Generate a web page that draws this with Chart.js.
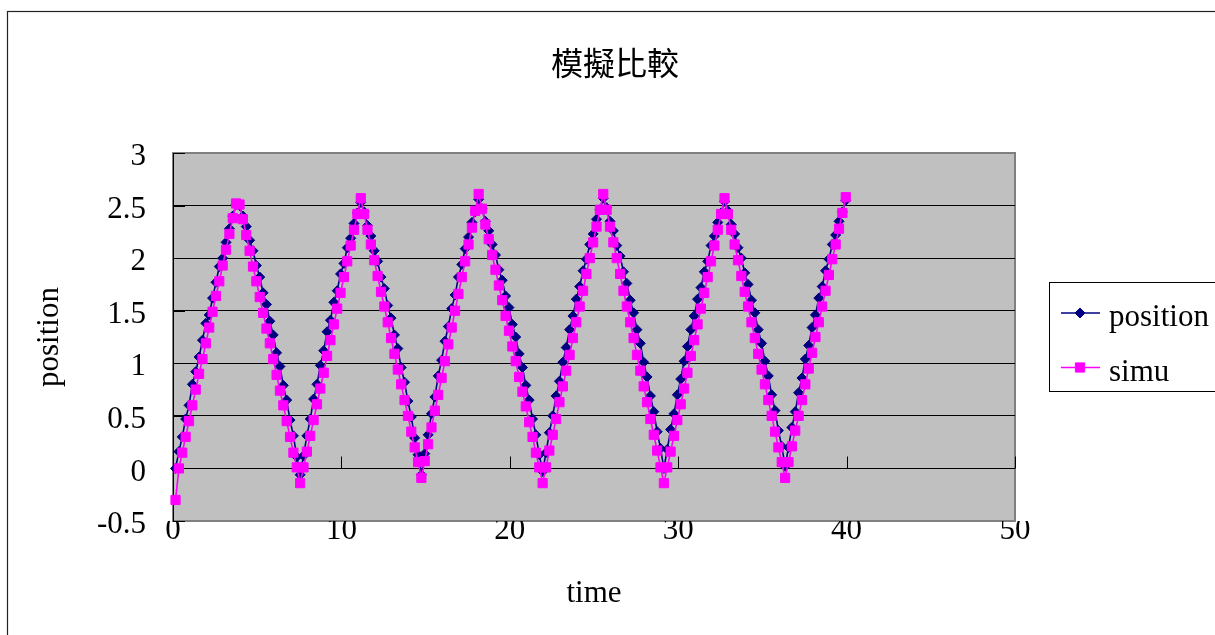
<!DOCTYPE html>
<html><head><meta charset="utf-8">
<style>html,body{margin:0;padding:0;background:#fff;} #wrap{position:relative;width:1215px;height:635px;}</style>
<script src="https://cdn.jsdelivr.net/npm/chart.js@4.4.1/dist/chart.umd.min.js"></script>
</head><body><div id="wrap"><canvas id="c"></canvas></div>
<script>
const chartTitle = '模擬比較';
const seriesNames = ['position', 'simu'];
const xTitle = 'time';
const yTitle = 'position';
const xTickLabels = ['0', '10', '20', '30', '40', '50'];
const yTickLabels = ['-0.5', '0', '0.5', '1', '1.5', '2', '2.5', '3'];

const times = [
0.15,0.35,0.55,0.75,0.95,1.15,1.35,1.55,1.75,1.95,
2.15,2.35,2.55,2.75,2.95,3.15,3.35,3.55,3.75,3.95,
4.15,4.35,4.55,4.75,4.95,5.15,5.35,5.55,5.75,5.95,
6.15,6.35,6.55,6.75,6.95,7.15,7.35,7.55,7.75,7.95,
8.15,8.35,8.55,8.75,8.95,9.15,9.35,9.55,9.75,9.95,
10.15,10.35,10.55,10.75,10.95,11.15,11.35,11.55,11.75,11.95,
12.15,12.35,12.55,12.75,12.95,13.15,13.35,13.55,13.75,13.95,
14.15,14.35,14.55,14.75,14.95,15.15,15.35,15.55,15.75,15.95,
16.15,16.35,16.55,16.75,16.95,17.15,17.35,17.55,17.75,17.95,
18.15,18.35,18.55,18.75,18.95,19.15,19.35,19.55,19.75,19.95,
20.15,20.35,20.55,20.75,20.95,21.15,21.35,21.55,21.75,21.95,
22.15,22.35,22.55,22.75,22.95,23.15,23.35,23.55,23.75,23.95,
24.15,24.35,24.55,24.75,24.95,25.15,25.35,25.55,25.75,25.95,
26.15,26.35,26.55,26.75,26.95,27.15,27.35,27.55,27.75,27.95,
28.15,28.35,28.55,28.75,28.95,29.15,29.35,29.55,29.75,29.95,
30.15,30.35,30.55,30.75,30.95,31.15,31.35,31.55,31.75,31.95,
32.15,32.35,32.55,32.75,32.95,33.15,33.35,33.55,33.75,33.95,
34.15,34.35,34.55,34.75,34.95,35.15,35.35,35.55,35.75,35.95,
36.15,36.35,36.55,36.75,36.95,37.15,37.35,37.55,37.75,37.95,
38.15,38.35,38.55,38.75,38.95,39.15,39.35,39.55,39.75,39.95
];

const position = [
0.00,0.16,0.30,0.47,0.60,0.80,0.92,1.06,1.22,1.38,
1.46,1.62,1.77,1.92,2.00,2.15,2.28,2.40,2.51,2.50,
2.40,2.30,2.17,2.07,1.93,1.82,1.67,1.56,1.40,1.27,
1.10,0.97,0.79,0.65,0.46,0.31,0.11,-0.06,0.12,0.31,
0.47,0.66,0.80,0.98,1.12,1.30,1.41,1.58,1.69,1.85,
1.95,2.10,2.19,2.33,2.43,2.53,2.44,2.31,2.21,2.07,
1.97,1.82,1.71,1.55,1.43,1.27,1.14,0.96,0.82,0.64,
0.49,0.29,0.13,-0.06,0.14,0.32,0.52,0.68,0.88,1.03,
1.21,1.35,1.52,1.65,1.82,1.94,2.09,2.20,2.34,2.44,
2.56,2.47,2.35,2.26,2.13,2.03,1.89,1.79,1.64,1.53,
1.37,1.25,1.09,0.96,0.79,0.65,0.47,0.32,0.13,-0.03,
0.15,0.34,0.50,0.69,0.83,1.01,1.15,1.32,1.45,1.61,
1.73,1.88,1.99,2.13,2.23,2.37,2.46,2.57,2.48,2.35,
2.26,2.12,2.02,1.87,1.76,1.60,1.48,1.32,1.19,1.01,
0.87,0.69,0.54,0.35,0.19,0.00,0.18,0.37,0.52,0.70,
0.85,1.02,1.16,1.32,1.45,1.61,1.72,1.87,1.97,2.12,
2.21,2.34,2.43,2.54,2.45,2.32,2.23,2.10,2.00,1.86,
1.75,1.60,1.48,1.32,1.19,1.02,0.88,0.70,0.55,0.36,
0.21,0.02,0.20,0.39,0.54,0.72,0.86,1.04,1.17,1.34,
1.46,1.62,1.73,1.88,1.99,2.13,2.22,2.35,2.44,2.55
];

const simu = [
-0.30,0.00,0.15,0.30,0.45,0.60,0.75,0.90,1.04,1.19,
1.34,1.49,1.64,1.78,1.93,2.08,2.23,2.38,2.52,2.51,
2.37,2.22,2.07,1.92,1.78,1.63,1.48,1.33,1.19,1.04,
0.89,0.74,0.60,0.45,0.30,0.15,0.01,-0.14,0.01,0.16,
0.31,0.46,0.61,0.76,0.91,1.07,1.22,1.37,1.52,1.67,
1.82,1.97,2.12,2.27,2.42,2.57,2.42,2.27,2.13,1.98,
1.83,1.68,1.54,1.39,1.24,1.09,0.94,0.80,0.65,0.50,
0.35,0.20,0.06,-0.09,0.07,0.23,0.39,0.55,0.70,0.86,
1.02,1.18,1.34,1.50,1.66,1.82,1.97,2.13,2.29,2.45,
2.61,2.47,2.32,2.18,2.03,1.89,1.74,1.60,1.45,1.31,
1.16,1.02,0.87,0.73,0.59,0.44,0.30,0.15,0.01,-0.14,
0.01,0.17,0.32,0.47,0.63,0.78,0.93,1.08,1.24,1.39,
1.54,1.69,1.85,2.00,2.15,2.30,2.46,2.61,2.46,2.30,
2.15,2.00,1.85,1.69,1.54,1.39,1.24,1.08,0.93,0.78,
0.63,0.47,0.32,0.17,0.01,-0.14,0.01,0.16,0.31,0.46,
0.61,0.76,0.91,1.07,1.22,1.37,1.52,1.67,1.82,1.97,
2.12,2.27,2.42,2.57,2.42,2.27,2.13,1.98,1.83,1.68,
1.54,1.39,1.24,1.09,0.94,0.80,0.65,0.50,0.35,0.20,
0.06,-0.09,0.06,0.21,0.36,0.50,0.65,0.80,0.95,1.10,
1.25,1.39,1.54,1.69,1.84,1.99,2.13,2.28,2.43,2.58
];

const serifFont = '"Liberation Serif", "Times New Roman", serif';
const cjkFont = '"Noto Sans CJK TC", "Noto Sans CJK SC", sans-serif';

function drawMarker(ctx, style, x, y, r, color) {
  ctx.fillStyle = color; ctx.strokeStyle = color; ctx.lineWidth = 1;
  ctx.beginPath();
  if (style === 'rectRot') {
    ctx.moveTo(x - r, y); ctx.lineTo(x, y - r); ctx.lineTo(x + r, y); ctx.lineTo(x, y + r);
  } else {
    const s = r * Math.SQRT1_2;
    ctx.rect(x - s, y - s, 2 * s, 2 * s);
  }
  ctx.closePath(); ctx.fill(); ctx.stroke();
}

const deco = {
  id: 'deco',
  beforeDraw(chart) {
    const {ctx, chartArea: a, scales: {x, y}} = chart;
    ctx.save();
    ctx.fillStyle = '#fff'; ctx.fillRect(0, 0, chart.width, chart.height);
    ctx.strokeStyle = '#222'; ctx.lineWidth = 1.2;
    ctx.strokeRect(7.5, 11.5, chart.width + 20, chart.height + 20);
    ctx.fillStyle = '#C0C0C0';
    ctx.fillRect(a.left, a.top, a.right - a.left, a.bottom - a.top);
    ctx.strokeStyle = '#808080'; ctx.lineWidth = 2;
    ctx.strokeRect(a.left, a.top, a.right - a.left, a.bottom - a.top);
    ctx.strokeStyle = '#000'; ctx.lineWidth = 1;
    ctx.beginPath();
    ctx.moveTo(a.left + 0.5, a.top); ctx.lineTo(a.left + 0.5, a.bottom);
    y.ticks.forEach(t => {
      const py = Math.round(y.getPixelForValue(t.value)) + 0.5;
      ctx.moveTo(a.left, py); ctx.lineTo(a.left + 12, py);
    });
    const y0 = Math.round(y.getPixelForValue(0)) + 0.5;
    x.ticks.forEach(t => {
      const px = Math.round(x.getPixelForValue(t.value)) + 0.5;
      ctx.moveTo(px, y0); ctx.lineTo(px, y0 - 12);
    });
    ctx.stroke();
    ctx.restore();
  },
  afterDraw(chart) {
    const {ctx} = chart;
    ctx.save();
    ctx.fillStyle = '#000';
    ctx.font = '32px ' + cjkFont;
    ctx.textAlign = 'center'; ctx.textBaseline = 'middle';
    ctx.fillText(chartTitle, 615, 63);
    // legend
    ctx.strokeStyle = '#000'; ctx.lineWidth = 1;
    ctx.strokeRect(1049.5, 282.5, 200, 109);
    chart.data.datasets.forEach((ds, i) => {
      const ym = 313 + i * 54.5;
      ctx.strokeStyle = ds.borderColor; ctx.lineWidth = ds.borderWidth;
      ctx.beginPath(); ctx.moveTo(1061, ym); ctx.lineTo(1100, ym); ctx.stroke();
      drawMarker(ctx, ds.pointStyle, 1080, ym, ds.pointRadius, ds.borderColor);
      ctx.fillStyle = '#000';
      ctx.font = '31px ' + serifFont;
      ctx.textAlign = 'left'; ctx.textBaseline = 'alphabetic';
      ctx.fillText(ds.label, 1109, ym + 13);
    });
    ctx.restore();
  }
};

const tickFont = {family: serifFont, size: 31};

new Chart(document.getElementById('c'), {
  type: 'scatter',
  data: {
    datasets: [
      {
        label: seriesNames[0],
        data: times.map((t, i) => ({x: t, y: position[i]})),
        showLine: true, tension: 0, clip: false, order: 2,
        borderColor: '#000080', backgroundColor: '#000080', borderWidth: 1.6,
        pointStyle: 'rectRot', pointRadius: 5, pointBorderWidth: 1,
        pointBackgroundColor: '#000080', pointBorderColor: '#000080'
      },
      {
        label: seriesNames[1],
        data: times.map((t, i) => ({x: t, y: simu[i]})),
        showLine: true, tension: 0, clip: false, order: 1,
        borderColor: '#FF00FF', backgroundColor: '#FF00FF', borderWidth: 1.6,
        pointStyle: 'rect', pointRadius: 6.5, pointBorderWidth: 1,
        pointBackgroundColor: '#FF00FF', pointBorderColor: '#FF00FF'
      }
    ]
  },
  options: {
    responsive: true, maintainAspectRatio: false, animation: false,
    layout: {padding: {top: 153, right: 200, left: 0, bottom: 0}},
    plugins: {legend: {display: false}, title: {display: false}, tooltip: {enabled: false}},
    scales: {
      x: {
        type: 'linear', position: 'bottom', min: 0, max: 50,
        afterFit(s) { s.height = 114; },
        grid: {display: false, drawTicks: false}, border: {display: false},
        ticks: {stepSize: 10, padding: -9, color: '#000', font: tickFont, maxRotation: 0,
          callback: v => xTickLabels[Math.round(v / 10)]},
        title: {display: true, text: xTitle, color: '#000', font: tickFont, padding: {top: 0, bottom: 23}}
      },
      y: {
        type: 'linear', min: -0.5, max: 3,
        afterFit(s) { s.width = 173; },
        grid: {drawTicks: false, lineWidth: 1,
          color: c => (c.tick && (c.tick.value === 3 || c.tick.value === -0.5)) ? 'rgba(0,0,0,0)' : '#000'},
        border: {display: false},
        ticks: {stepSize: 0.5, padding: 27, labelOffset: 4, color: '#000', font: tickFont,
          callback: v => yTickLabels[Math.round((v + 0.5) / 0.5)]},
        title: {display: true, text: yTitle, color: '#000', font: tickFont, padding: {top: 31, bottom: 0}}
      }
    }
  },
  plugins: [deco]
});
</script>
</body></html>
